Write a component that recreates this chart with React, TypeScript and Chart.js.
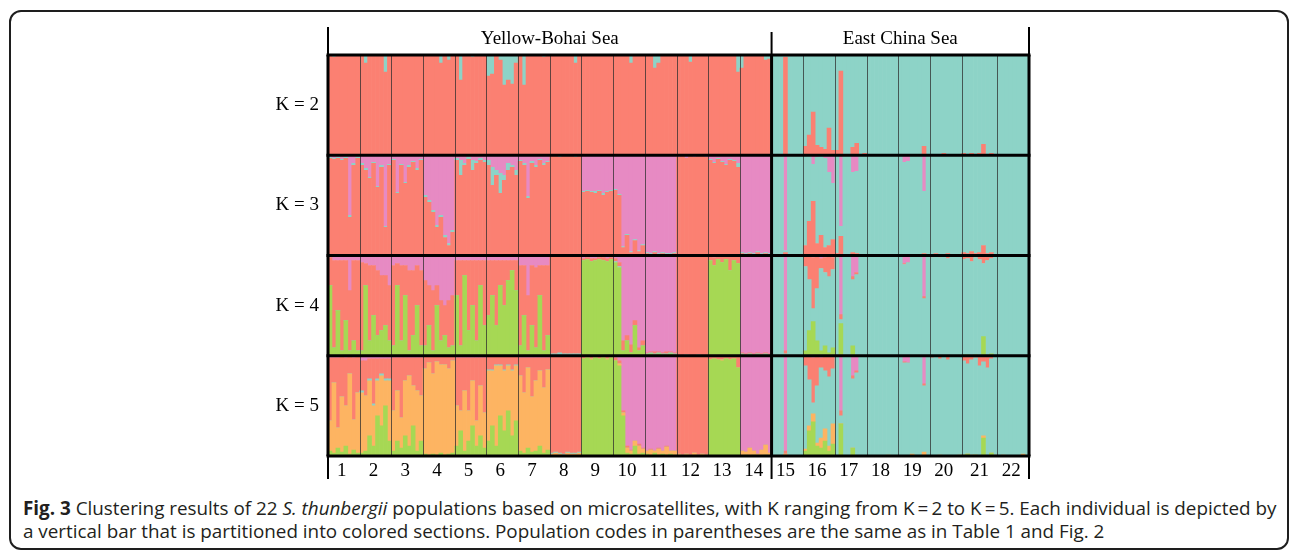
import React, { useEffect, useRef } from 'react';
import { Chart, registerables } from 'chart.js';

Chart.register(...registerables);

// ---------- labels ----------
const populations = ['1','2','3','4','5','6','7','8','9','10','11','12','13','14','15','16','17','18','19','20','21','22'];
const regions = ['Yellow-Bohai Sea', 'East China Sea'];
const regionPopCounts = [14, 8];
const kLabels = ['K = 2', 'K = 3', 'K = 4', 'K = 5'];

// ---------- colours ----------
const SALMON = '#FB8072';
const TEAL = '#8DD3C7';
const PINK = '#E78AC3';
const GREEN = '#A6D854';
const ORANGE = '#FDB462';

// ---------- membership (%) per population, per individual; teal = remainder ----------
const k2Salmon: number[][] = [
  [100,98,100,100,100,100,99,100],[100,92,100,99,100,100,83,100],[100,100,99,100,100,100,100,99],
  [100,100,100,100,92,100,95,100],[100,75,100,100,98,100,100,99],[79,81,100,95,70,75,71,92],
  [100,70,100,99,100,100,98,100],[100,100,100,100,100,100,92,100],[100,99,100,100,100,100,100,100],
  [99,100,100,100,92,100,100,100],[100,100,87,92,100,100,100,100],[100,100,100,93,100,100,100,100],
  [100,100,100,100,100,100,100,83],[87,100,100,100,100,100,95,96],
  [0,0,0,98,0,0,0,0],[9,20,43,10,8,6,27,5],[5,84,1,0,8,12,0,2],[0,0,1,0,0,0,0,0],
  [0,1,0,1,0,0,9,0],[0,1,0,2,1,0,0,0],[2,1,2,1,2,11,1,2,0],[0,0,0,0,0,0,1,0],
];

const k3Salmon: number[][] = [
  [97,96,97,95,97,38,90,97],[90,85,77,92,68,88,28,90],[95,62,90,72,88,93,85,95],
  [58,53,43,28,38,18,10,23],[95,80,90,96,85,92,95,93],[90,70,80,62,75,85,88,80],
  [94,90,57,92,88,95,90,93],[99,99,98,99,99,99,98,99],[63,64,63,62,64,60,63,64],
  [65,60,8,20,3,15,4,10],[2,1,3,1,2,1,1,2],[98,99,97,99,98,99,99,98],
  [95,92,96,93,90,95,94,88],[2,1,2,1,3,1,2,1],
  [0,0,0,3,0,0,0,0],[10,34,54,12,20,8,10,16],[2,19,1,0,3,2,0,1],[1,0,1,0,0,1,0,0],
  [0,1,0,1,0,0,2,0],[1,2,1,0,2,1,0,1],[3,2,4,2,3,10,2,3,1],[0,1,0,0,1,0,0,1],
];
const k3Pink: number[][] = [
  [2,3,2,4,2,60,8,2],[8,13,22,7,31,10,71,9],[4,37,9,27,10,6,13,4],
  [40,45,55,70,60,80,88,75],[3,5,8,2,5,6,3,5],[5,12,15,18,20,8,10,15],
  [5,8,41,6,10,4,8,6],[0,0,1,0,0,0,1,0],[36,35,36,36,35,38,36,35],
  [34,39,91,79,96,84,95,89],[97,98,96,98,97,98,98,97],[2,1,3,1,2,1,1,2],
  [4,7,3,6,9,4,5,8],[97,98,97,98,96,98,97,98],
  [0,0,0,95,0,0,0,0],[1,0,9,2,0,3,17,28],[0,71,0,0,17,16,0,0],[0,0,0,0,0,0,0,0],
  [0,7,6,0,0,0,36,0],[0,0,0,0,0,0,0,0],[0,0,0,0,0,0,0,0,0],[0,0,0,0,0,0,0,0],
];

const k4Green: number[][] = [
  [70,8,45,5,35,5,15,5],[5,70,15,40,20,25,30,15],[10,70,15,60,5,20,50,10],
  [10,30,5,50,15,20,8,10],[60,10,80,25,50,15,70,30],[40,60,30,70,50,75,85,65],
  [10,40,5,30,8,60,5,20],[0,0,0,0,0,0,0,0],[95,96,94,95,96,95,94,96],
  [93,88,5,15,3,30,5,10],[1,2,1,2,1,1,2,1],[0,0,0,0,0,0,0,0],
  [95,90,96,93,96,85,95,92],[1,0,1,0,1,0,1,0],
  [0,0,0,0,0,0,0,0],[5,25,34,15,5,10,3,8],[0,32,0,0,10,0,0,0],[0,0,0,0,0,0,0,0],
  [0,0,0,0,0,0,0,0],[0,0,0,0,0,0,0,0],[1,1,0,1,0,19,0,2,0],[0,0,0,0,0,0,0,0],
];
const k4Salmon: number[][] = [
  [28,87,50,90,60,60,80,90],[88,22,75,50,65,55,50,55],[80,22,75,30,80,65,40,75],
  [65,40,60,20,40,30,47,50],[35,85,15,70,45,80,25,65],[55,35,65,25,45,20,10,30],
  [80,50,55,60,80,30,85,70],[97,98,96,98,97,98,97,98],[2,2,3,2,2,3,3,2],
  [3,4,10,5,8,5,3,5],[1,1,2,1,1,2,1,1],[99,99,98,99,99,98,99,99],
  [4,8,3,6,3,14,4,7],[1,1,1,1,1,1,1,1],
  [0,0,0,3,0,0,0,0],[10,24,51,32,10,15,20,12],[2,5,1,1,3,2,1,1],[1,0,1,0,1,0,0,0],
  [1,1,0,1,0,0,2,0],[2,1,2,0,3,1,0,1],[4,3,6,2,4,8,5,3,1],[1,0,1,0,1,0,1,0],
];
const k4Pink: number[][] = [
  [2,5,5,5,5,35,5,5],[7,8,10,10,15,20,20,30],[10,8,10,10,15,15,10,15],
  [25,30,35,30,45,50,45,40],[5,5,5,5,5,5,5,5],[5,5,5,5,5,5,5,5],
  [10,10,40,10,12,10,10,10],[1,0,1,0,1,0,1,0],[3,2,3,3,2,2,3,2],
  [3,7,85,80,89,65,92,85],[97,96,96,96,97,96,96,97],[1,1,1,1,1,1,1,1],
  [1,2,1,1,1,1,1,1],[97,98,97,98,97,98,97,98],
  [0,0,0,95,0,0,0,0],[1,0,2,1,3,2,1,2],[0,59,0,0,21,17,0,0],[0,0,0,0,0,0,0,0],
  [0,8,7,0,0,0,41,0],[0,0,0,0,0,0,0,0],[0,0,0,0,0,0,0,0,0],[0,0,0,0,0,0,0,0],
];

const k5Green: number[][] = [
  [5,3,8,4,10,2,6,3],[3,5,20,10,40,30,50,15],[5,15,8,20,10,30,5,15],
  [2,1,2,1,3,1,2,3],[10,25,5,15,30,10,20,8],[15,30,10,40,25,45,20,35],
  [5,3,8,4,5,10,3,6],[0,0,0,0,0,0,0,0],[97,98,96,98,97,98,96,98],
  [95,90,40,3,2,10,2,3],[2,1,3,1,2,1,2,1],[0,0,0,0,0,0,0,0],
  [96,97,96,95,97,96,97,88],[0,1,0,1,0,0,1,0],
  [0,0,0,0,0,0,0,0],[5,25,34,10,8,15,5,12],[0,32,0,0,8,0,0,0],[0,0,0,0,0,0,0,0],
  [0,0,0,0,0,0,0,0],[0,0,0,0,0,0,0,0],[1,2,0,1,0,18,0,3,0],[0,0,0,0,0,0,0,0],
];
const k5Orange: number[][] = [
  [30,70,20,55,40,80,30,60],[60,55,55,40,35,50,25,60],[40,50,30,55,70,40,60,45],
  [85,92,80,93,88,90,85,92],[40,20,60,30,45,25,50,35],[70,55,80,50,60,45,65,55],
  [75,60,80,55,70,75,65,80],[2,3,2,1,3,2,2,3],[0,0,1,0,0,0,1,0],
  [0,2,3,5,3,5,8,4],[3,5,2,6,3,8,3,4],[2,1,2,1,3,1,2,1],
  [0,0,0,1,0,0,0,0],[5,3,8,4,2,6,10,3],
  [0,0,0,2,0,0,0,0],[2,5,8,3,10,12,5,20],[0,0,0,0,0,0,0,0],[0,0,0,0,0,1,0,0],
  [0,0,0,2,0,0,4,0],[0,0,1,0,0,0,0,1],[0,0,1,0,0,2,0,0,1],[0,1,0,0,0,0,2,0],
];
const k5Salmon: number[][] = [
  [63,25,70,40,48,17,62,36],[30,35,20,45,20,15,20,20],[53,33,60,23,18,28,33,38],
  [12,6,17,5,8,8,12,4],[48,53,33,53,23,63,28,55],[13,13,8,8,13,8,13,8],
  [18,35,10,39,23,13,30,12],[97,96,97,98,96,97,97,96],[2,1,2,1,2,1,2,1],
  [3,3,2,2,1,0,2,1],[0,1,0,1,0,1,0,0],[98,99,98,99,97,99,98,99],
  [4,3,4,4,3,4,3,12],[0,0,0,0,0,0,0,0],
  [0,0,0,3,0,0,0,0],[10,24,45,30,10,15,20,12],[1,5,1,1,3,2,1,1],[1,0,1,0,1,0,0,0],
  [1,1,0,1,0,0,2,0],[2,1,3,0,4,1,0,1],[5,8,4,2,10,6,12,3,1],[1,0,1,0,1,0,1,0],
];
const k5Pink: number[][] = [
  [2,2,2,1,2,1,2,1],[5,5,3,3,3,3,3,3],[2,2,2,2,2,2,2,2],
  [1,1,1,1,1,1,1,1],[2,2,2,2,2,2,2,2],[1,1,1,1,1,1,1,1],
  [2,2,2,2,2,2,2,2],[0,0,0,0,0,0,0,0],[1,1,1,1,1,1,1,1],
  [2,5,55,90,94,85,88,92],[95,93,95,92,95,90,95,95],[0,0,0,0,0,0,0,0],
  [0,0,0,0,0,0,0,0],[95,96,92,95,98,94,89,97],
  [0,0,0,95,0,0,0,0],[0,0,2,0,2,0,1,1],[0,55,0,0,20,15,0,0],[0,0,0,0,0,0,0,0],
  [0,6,7,0,0,0,28,0],[0,0,0,0,0,0,0,0],[0,0,0,0,0,0,0,0,0],[0,0,0,0,0,0,0,0],
];

// ---------- derived structures ----------
const popSizes = k2Salmon.map((p) => p.length);
const popStarts: number[] = [];
popSizes.reduce((acc, n) => { popStarts.push(acc); return acc + n; }, 0);
const individualLabels: string[] = [];
const tickText: string[] = [];
populations.forEach((p, pi) => {
  const n = popSizes[pi];
  for (let i = 0; i < n; i++) {
    individualLabels.push(`${p}.${i + 1}`);
    tickText.push(i === Math.floor((n - 1) / 2) ? p : '');
  }
});

const flat = (a: number[][]) => a.flat();
const remainder = (...parts: number[][][]) => {
  const f = parts.map(flat);
  return f[0].map((_, i) => Math.max(0, 100 - f.reduce((s, arr) => s + arr[i], 0)));
};

type Seg = { data: number[]; color: string };
const rows: { axis: string; segs: Seg[] }[] = [
  { axis: 'yK2', segs: [
    { data: flat(k2Salmon), color: SALMON },
    { data: remainder(k2Salmon), color: TEAL },
  ] },
  { axis: 'yK3', segs: [
    { data: flat(k3Salmon), color: SALMON },
    { data: remainder(k3Salmon, k3Pink), color: TEAL },
    { data: flat(k3Pink), color: PINK },
  ] },
  { axis: 'yK4', segs: [
    { data: flat(k4Green), color: GREEN },
    { data: remainder(k4Green, k4Salmon, k4Pink), color: TEAL },
    { data: flat(k4Salmon), color: SALMON },
    { data: flat(k4Pink), color: PINK },
  ] },
  { axis: 'yK5', segs: [
    { data: flat(k5Green), color: GREEN },
    { data: flat(k5Orange), color: ORANGE },
    { data: remainder(k5Green, k5Orange, k5Salmon, k5Pink), color: TEAL },
    { data: flat(k5Salmon), color: SALMON },
    { data: flat(k5Pink), color: PINK },
  ] },
];

const SERIF = '"Liberation Serif", "DejaVu Serif", serif';

const framePlugin = {
  id: 'structureFrame',
  afterDatasetsDraw(chart: any) {
    const { ctx, chartArea } = chart;
    const xs = chart.scales.x;
    const half = (xs.getPixelForValue(1) - xs.getPixelForValue(0)) / 2;
    const boundary = (idx: number) => xs.getPixelForValue(idx) - half;
    const left = chartArea.left;
    const right = chartArea.right;
    const top = chartArea.top;
    const bottom = chartArea.bottom;
    const regionSplit = boundary(popStarts[regionPopCounts[0]]);

    ctx.save();
    // population separators
    ctx.strokeStyle = 'rgba(45,45,45,0.75)';
    ctx.lineWidth = 1;
    popStarts.forEach((s, i) => {
      if (i === 0 || i === regionPopCounts[0]) return;
      const x = Math.round(boundary(s)) + 0.5;
      ctx.beginPath();
      ctx.moveTo(x, top);
      ctx.lineTo(x, bottom);
      ctx.stroke();
    });
    // row separators
    ctx.strokeStyle = '#000';
    ctx.lineWidth = 3;
    const rowEdges: number[] = [];
    rows.forEach((r) => { rowEdges.push(chart.scales[r.axis].top); });
    rowEdges.push(chart.scales[rows[rows.length - 1].axis].bottom);
    rowEdges.forEach((y) => {
      ctx.beginPath();
      ctx.moveTo(left - 1.5, y);
      ctx.lineTo(right + 1.5, y);
      ctx.stroke();
    });
    [left, regionSplit, right].forEach((x) => {
      ctx.beginPath();
      ctx.moveTo(x, top);
      ctx.lineTo(x, bottom);
      ctx.stroke();
    });
    // header and footer ticks
    ctx.lineWidth = 2;
    [[left, top - 28], [regionSplit, top - 23], [right, top - 28]].forEach(([x, y0]) => {
      ctx.beginPath();
      ctx.moveTo(x, y0);
      ctx.lineTo(x, top);
      ctx.stroke();
    });
    [left, regionSplit, right].forEach((x) => {
      ctx.beginPath();
      ctx.moveTo(x, bottom);
      ctx.lineTo(x, bottom + 23);
      ctx.stroke();
    });
    ctx.fillStyle = '#000';
    ctx.font = `19px ${SERIF}`;
    ctx.textAlign = 'center';
    ctx.textBaseline = 'middle';
    ctx.fillText(regions[0], (left + regionSplit) / 2, top - 16);
    ctx.fillText(regions[1], (regionSplit + right) / 2, top - 16);
    ctx.restore();
  },
};

function StructurePlot() {
  const ref = useRef<HTMLCanvasElement | null>(null);
  useEffect(() => {
    if (!ref.current) return;
    const datasets: any[] = [];
    rows.forEach((r) => {
      r.segs.forEach((s) => {
        datasets.push({
          data: s.data,
          backgroundColor: s.color,
          borderWidth: 0,
          yAxisID: r.axis,
          stack: 'all',
          barPercentage: 1,
          categoryPercentage: 1,
        });
      });
    });
    // later-defined left axes are placed higher in a stacked column, so define bottom row first
    const yScales: any = {};
    for (let ri = rows.length - 1; ri >= 0; ri--) {
      const r = rows[ri];
      yScales[r.axis] = {
        type: 'linear',
        position: 'left',
        stack: 'rows',
        stackWeight: 1,
        stacked: true,
        min: 0,
        max: 100,
        grid: { display: false, drawTicks: false },
        border: { display: false },
        ticks: {
          stepSize: 50,
          padding: 9,
          color: '#000',
          font: { family: SERIF, size: 19 },
          callback: (v: number) => (v === 50 ? kLabels[ri] : ''),
        },
        afterFit: (s: any) => { s.width = 328; },
      };
    }
    const chart = new Chart(ref.current, {
      type: 'bar',
      data: { labels: individualLabels, datasets },
      options: {
        animation: false,
        responsive: false,
        maintainAspectRatio: false,
        layout: { padding: { left: 0, right: 261, top: 55, bottom: 8 } },
        plugins: { legend: { display: false }, tooltip: { enabled: false } },
        scales: {
          x: {
            type: 'category',
            stacked: true,
            grid: { display: false, drawTicks: false },
            border: { display: false },
            ticks: {
              autoSkip: false,
              maxRotation: 0,
              minRotation: 0,
              padding: 4,
              color: '#000',
              font: { family: SERIF, size: 19 },
              callback: (_v: any, i: number) => tickText[i],
            },
            afterFit: (s: any) => { s.height = 26; },
          },
          ...yScales,
        },
      },
      plugins: [framePlugin],
    });
    return () => chart.destroy();
  }, []);
  return (
    <canvas
      ref={ref}
      width={1290}
      height={490}
      style={{ position: 'absolute', left: 0, top: 0, width: 1290, height: 490 }}
    />
  );
}

export default function App() {
  useEffect(() => {
    document.body.style.overflow = 'hidden';
  }, []);
  return (
    <div style={{ position: 'absolute', left: 0, top: 0, width: 1290, height: 550, overflow: 'hidden', background: '#fff' }}>
      <div
        style={{
          position: 'absolute', left: 9, top: 10, width: 1280, height: 540,
          boxSizing: 'border-box', border: '2px solid #1e1e1e', borderRadius: 12,
        }}
      />
      <StructurePlot />
      <div
        style={{
          position: 'absolute', left: 23, top: 497, whiteSpace: 'nowrap',
          fontFamily: '"Open Sans", "Noto Sans", sans-serif', fontSize: 18.85, lineHeight: '23px', color: '#231f20',
        }}
      >
        <b>Fig. 3</b> Clustering results of 22 <i>S. thunbergii</i> populations based on microsatellites, with K ranging from K&#8201;=&#8201;2 to K&#8201;=&#8201;5. Each individual is depicted by
        <br />
        a vertical bar that is partitioned into colored sections. Population codes in parentheses are the same as in Table 1 and Fig. 2
      </div>
    </div>
  );
}
